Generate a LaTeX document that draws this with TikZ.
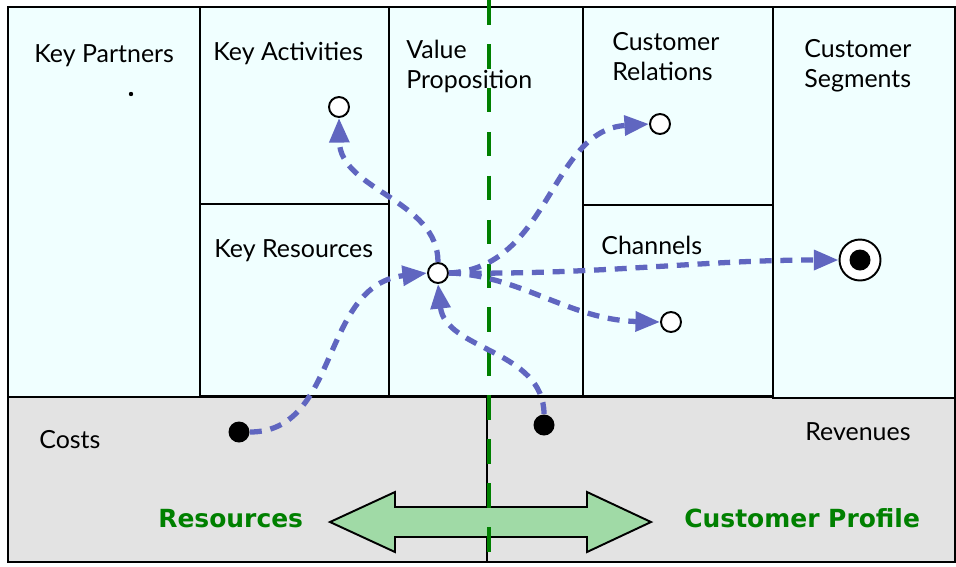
\documentclass[tikz,border=0pt]{standalone}
\usepackage{fontspec}
\setmainfont{Lato}
\newfontfamily\headfont{DejaVu Sans}
\usetikzlibrary{arrows.meta}
\definecolor{boxfill}{RGB}{240,255,255}
\definecolor{costgray}{RGB}{227,227,227}
\definecolor{flowblue}{RGB}{96,102,192}
\definecolor{arrowgreen}{RGB}{160,218,166}
\definecolor{splitgreen}{RGB}{0,128,0}
\begin{document}
\begin{tikzpicture}[x=0.02cm,y=-0.02cm,
    box/.style={draw,line width=1.1pt,fill=boxfill},
    label/.style={anchor=base west,inner sep=0pt,align=left,font=\fontsize{14.2}{17}\selectfont},
    side/.style={anchor=base west,inner sep=0pt,text=splitgreen,font=\headfont\bfseries\fontsize{14.2}{17}\selectfont},
    hollow/.style={circle,draw,line width=1.1pt,fill=white,minimum size=0.4cm,inner sep=0pt},
    filled/.style={circle,fill=black,minimum size=0.42cm,inner sep=0pt},
    flow/.style={draw=flowblue,line width=3pt,dash pattern=on 6.8pt off 5pt,-{Triangle[length=14pt,width=11pt]}}]
    \useasboundingbox (0,0) rectangle (956,566);
    % canvas
    \draw [line width=1.1pt,fill=costgray] (8,397) rectangle (955,562);
    \draw [line width=1.1pt] (487,397) -- (487,562);
    \draw [box] (8,7) rectangle (200,397);
    \draw [box] (200,7) rectangle (389,204);
    \draw [box] (200,204) rectangle (389,396);
    \draw [box] (389,7) rectangle (583,396);
    \draw [box] (583,7) rectangle (773,205);
    \draw [box] (583,205) rectangle (773,396);
    \draw [box] (773,7) rectangle (955,398);
    % two-line labels sit on their last line
    \node [label] (kp) at (34,62) {Key Partners};
    \node [label] (kact) at (213,60) {Key Activities};
    \node [label] (vp) at (406,88) {Value\\Proposition};
    \node [label] (crel) at (612,80) {Customer\\Relations};
    \node [label] (cseg) at (804,87) {Customer\\Segments};
    \node [label] (kres) at (214,257) {Key Resources};
    \node [label] (chan) at (601,254) {Channels};
    \node [label] (costs) at (39,448) {Costs};
    \node [label] (revs) at (805,440) {Revenues};
    \node [circle,fill,inner sep=0pt,minimum size=2.5pt] (kpdot) at (131,94) {};
    % resources <-> customer profile
    \draw [line width=1.1pt,fill=arrowgreen] (330,522) -- (395,492) -- (395,507) -- (587,507) -- (587,492)
        -- (651,522) -- (587,552) -- (587,537) -- (395,537) -- (395,552) -- cycle;
    \node [side] (res) at (158,527) {Resources};
    \node [side] (prof) at (684,527) {Customer Profile};
    \draw [splitgreen,line width=2.8pt,dash pattern=on 14pt off 11pt] (489,0) -- (489,566);
    % points
    \node [hollow] (hub) at (438,273) {};
    \node [hollow] (ka) at (339,107) {};
    \node [hollow] (cr) at (660,124) {};
    \node [hollow] (ch) at (671,322) {};
    \node [circle,draw,line width=1.1pt,fill=white,minimum size=0.82cm,inner sep=0pt] (seg) at (860,260) {};
    \node [filled] (segdot) at (860,260) {};
    \node [filled] (cost) at (239,432) {};
    \node [filled] (rev) at (544,425) {};
    % flows
    \draw [flow] (cost.east) .. controls (340,432) and (320,285) .. (hub.west);
    \draw [flow] (rev.north) .. controls (544,350) and (445,350) .. (hub.south);
    \draw [flow] (hub.north) .. controls (438,200) and (340,190) .. (ka.south);
    \draw [flow] (hub.east) .. controls (550,268) and (550,130) .. (cr.west);
    \draw [flow] (hub.east) .. controls (600,275) and (700,260) .. (seg.west);
    \draw [flow] (hub.east) .. controls (520,275) and (570,320) .. (ch.west);
\end{tikzpicture}
\end{document}
